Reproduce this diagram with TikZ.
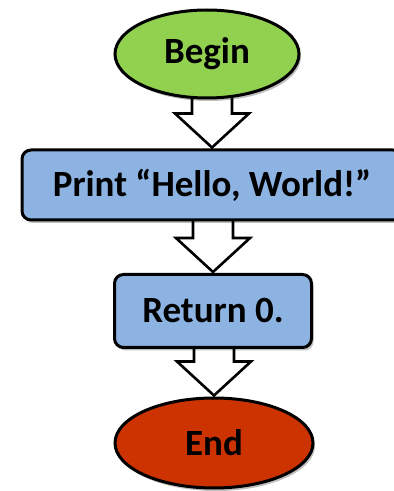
\documentclass[tikz,border=0pt]{standalone}
\usepackage{fontspec}
\setmainfont{Carlito}
\usetikzlibrary{shapes.geometric,shadows,backgrounds,calc}
\definecolor{begingreen}{HTML}{92D050}
\definecolor{stepblue}{HTML}{8DB3E2}
\definecolor{endred}{HTML}{CC3300}
\tikzset{
  x=1pt,y=1pt,
  every node/.style={font=\fontsize{37}{42}\selectfont\bfseries, inner sep=0pt},
  softshadow/.style={drop shadow={shadow xshift=2pt, shadow yshift=-3pt, opacity=0.25, fill=black}},
  terminal/.style={ellipse, draw=black, line width=3pt, softshadow},
  stepbox/.style={rectangle, rounded corners=9pt, draw=black, line width=3pt, fill=stepblue, softshadow},
  blockarrow/.style={draw=black, fill=white, line width=2.6pt, line join=miter},
}
\newcommand\flowarrow[2]{%
  \draw[blockarrow] let \p1=(#1.south), \p2=(#2.north) in
    (\x2-20,\y1+6) -- (\x2-20,\y2+35) -- (\x2-37,\y2+35) -- (\x2,\y2+1)
    -- (\x2+37,\y2+35) -- (\x2+20,\y2+35) -- (\x2+20,\y1+6) -- cycle;}
\begin{document}
\begin{tikzpicture}
\clip (0,0) rectangle (394,491);
\node[terminal, fill=begingreen, minimum width=184pt, minimum height=88pt] (begin) at (207,437) {Begin};
\node[stepbox, minimum width=380pt, minimum height=70pt] (print) at (212,306) {Print “Hello, World!”};
\node[stepbox, minimum width=197pt, minimum height=73pt] (return) at (213,180) {Return 0.};
\node[terminal, fill=endred, minimum width=198pt, minimum height=90pt] (end) at (214,48) {End};
\begin{scope}[on background layer]
\flowarrow{begin}{print}
\flowarrow{print}{return}
\flowarrow{return}{end}
\end{scope}
\end{tikzpicture}
\end{document}
